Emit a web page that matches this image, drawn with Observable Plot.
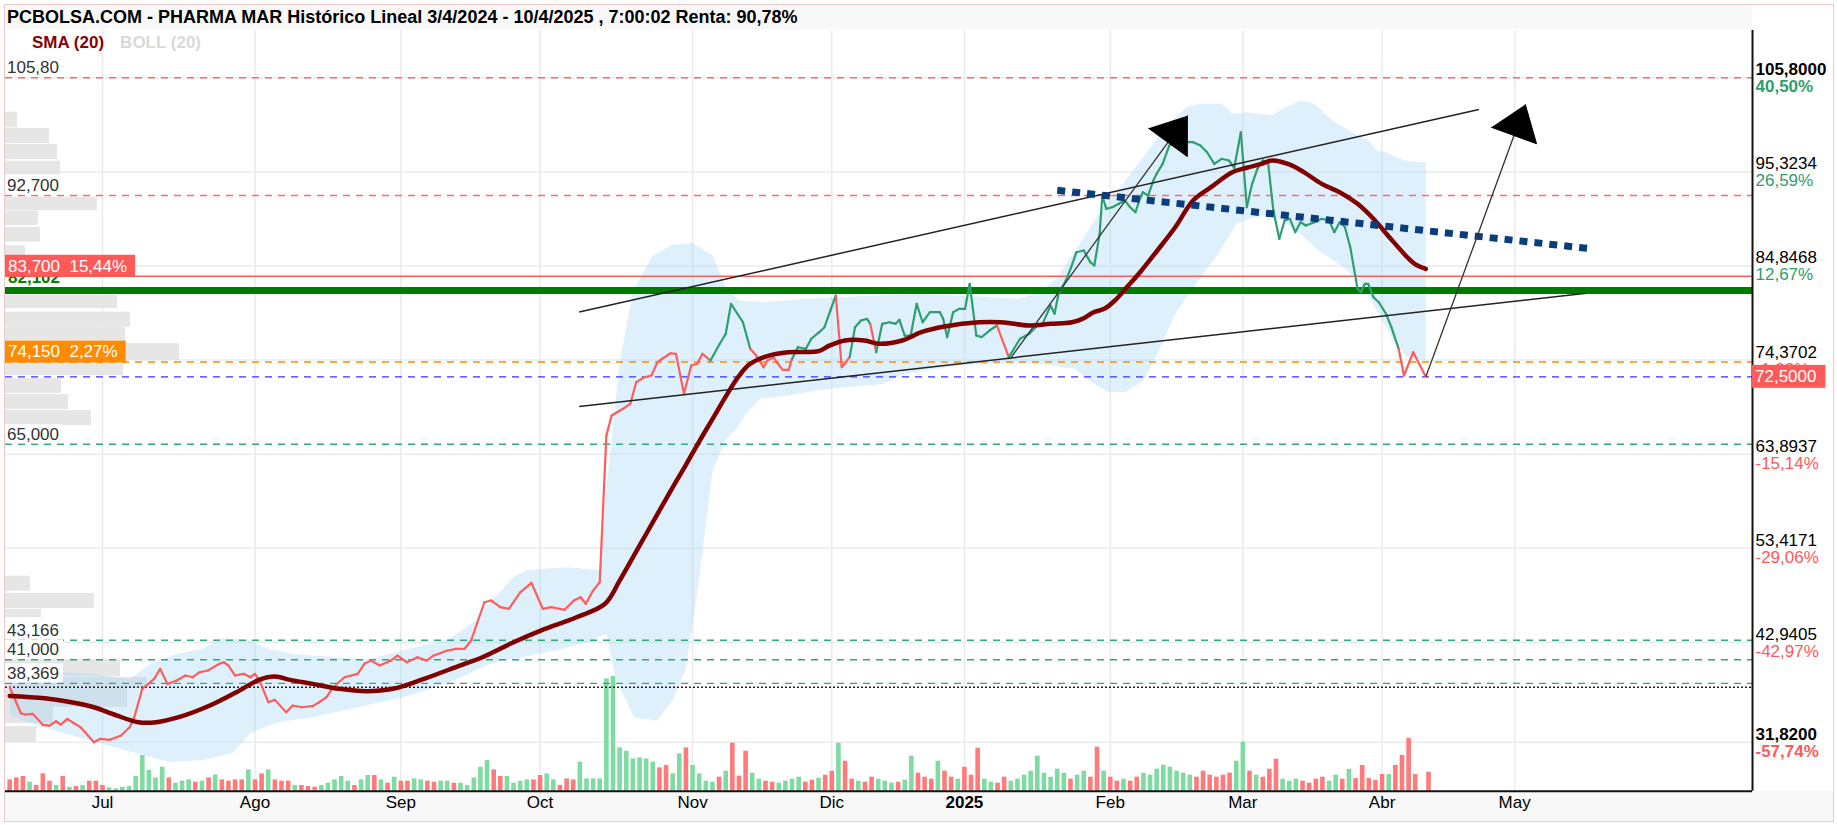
<!DOCTYPE html>
<html><head><meta charset="utf-8">
<script src="https://cdn.jsdelivr.net/npm/d3@7"></script>
<script src="https://cdn.jsdelivr.net/npm/@observablehq/plot@0.6"></script>
<style>
body{margin:0;background:#fff;font-family:"Liberation Sans",Arial,sans-serif;}
#wrap{position:relative;width:1837px;height:825px;overflow:hidden;background:#fff;}
#border{position:absolute;left:4px;top:4px;width:1830px;height:818px;border:1px solid #efc9c9;box-sizing:border-box;}
#titlebar{position:absolute;left:5px;top:5px;width:1747px;height:24px;background:#f8f8f8;}
#title{position:absolute;left:7px;top:5px;font:bold 18px "Liberation Sans",Arial,sans-serif;color:#000;white-space:nowrap;line-height:24px;}
#xband{position:absolute;left:5px;top:791px;width:1828px;height:30px;background:#f8f8f8;}
#legend{position:absolute;top:33px;left:32px;font:bold 17px "Liberation Sans",Arial,sans-serif;white-space:nowrap;line-height:20px;}
.layer{position:absolute;left:0;top:30px;}
</style></head>
<body><div id="wrap">
<div id="xband"></div>
<div id="titlebar"></div>
<div id="title">PCBOLSA.COM - PHARMA MAR Histórico Lineal 3/4/2024 - 10/4/2025 , 7:00:02 Renta: 90,78%</div>
<div id="border"></div>
<div id="legend"><span style="color:#8b0000">SMA (20)</span><span style="color:#d9d9d9;margin-left:16px">BOLL (20)</span></div>
</div>
<script>
// ---------------- DATA ----------------
const monthStarts = [["Jul",14],["Ago",37],["Sep",59],["Oct",80],["Nov",103],["Dic",124],["2025",144],["Feb",166],["Mar",186],["Abr",207],["May",227]];
const rightTicks = [105.8, 95.3234, 84.8468, 74.3702, 63.8937, 53.4171, 42.9405, 31.82];
const rightPct = ["40,50%","26,59%","12,67%","-1,23%","-15,14%","-29,06%","-42,97%","-57,74%"];
const baseRef = 75.30;
const firstPrice = 37.94;
const lastPrice = 72.5;

// closing price (trading-day index, value)
const closePts = [[0,37.94],[1.7,35.04],[2.3,34.9],[3.5,34.97],[5,33.75],[6,33.67],[7,34.15],[7.7,33.78],[8.7,34.42],[9.7,33.93],[10.7,33.48],[12.7,31.8],[13.7,32.19],[15.1,32.08],[16.8,32.56],[18.1,33.48],[18.8,34.6],[20,37.76],[21.8,38.87],[22.7,39.99],[23.8,38.3],[25.2,38.68],[26.5,39.24],[27.6,39.05],[28.6,39.6],[29.9,39.8],[31.6,40.54],[32.3,40.72],[33,40.35],[34,39.24],[35.3,39.43],[36.3,39.05],[37,39.43],[37.7,38.68],[39,36.27],[40,36.53],[41.7,35.15],[42.7,35.9],[44,35.71],[45.7,35.83],[46.7,36.27],[47.8,36.83],[48.8,37.94],[50.5,39.05],[52.5,39.43],[53.5,40.54],[54.5,40.9],[55.8,40.35],[57.5,40.9],[58.5,41.45],[59.9,40.72],[61.5,41.28],[62.9,40.9],[63.9,41.45],[65.9,42.0],[67.3,42.2],[68.6,42.2],[69.6,43.14],[71.6,47.4],[72.6,47.6],[74,46.85],[75.3,46.67],[77,48.5],[78.7,49.56],[80.4,46.67],[81.7,46.85],[83.7,46.56],[85.1,47.6],[86.1,47.96],[86.9,47.23],[88,48.7],[89,49.63],[90,65.97],[90.8,68.2],[92.5,68.94],[93.6,69.5],[94.5,71.9],[95.7,72.46],[96.8,72.65],[97.7,74.13],[98.2,74.4],[99.7,75.13],[100.5,75.06],[101.7,70.61],[102.8,73.76],[103.7,73.95],[104.5,75.06],[105.7,74.32],[107.1,76.18],[108,77.29],[108.8,80.63],[110.6,78.58],[111.7,75.62],[112.6,74.87],[113.7,73.57],[114.3,74.32],[115.2,74.69],[115.7,74.13],[116.6,73.28],[117.5,73.28],[118,74.5],[118.9,75.8],[120.1,75.62],[120.9,76.74],[122.1,77.47],[122.9,78.03],[123.8,79.9],[124.6,81.56],[125.5,73.57],[126.1,74.13],[126.7,74.69],[127.5,78.03],[128.4,78.77],[129.3,78.96],[129.8,78.4],[130.7,75.25],[131.6,78.4],[132.7,78.58],[133.6,78.4],[134.2,78.85],[135,77.1],[135.9,77.1],[136.8,80.63],[137.7,78.58],[138.8,79.7],[140.3,79.7],[140.8,78.96],[141.4,76.92],[142.3,79.7],[143.2,80.07],[144.1,80.07],[144.8,82.86],[145.8,77.1],[146.6,76.92],[147.8,77.66],[148.9,78.22],[150.7,74.69],[152.4,76.74],[153.8,77.29],[155,78.22],[155.8,78.4],[157,80.44],[157.6,79.52],[158.2,81.75],[159.3,83.23],[160.1,84.7],[160.9,86.38],[162,86.57],[163,85.27],[163.6,84.9],[164.4,88.43],[164.8,92.69],[165.4,91.21],[166.3,91.39],[167.3,91.77],[168.2,92.14],[169,91.39],[169.8,90.83],[170.3,91.95],[170.9,93.06],[171.7,92.69],[172.5,94.36],[173,95.11],[173.9,96.22],[174.9,98.26],[176,98.63],[177.4,98.63],[178.5,98.63],[179.6,98.26],[180.6,97.51],[181.7,96.22],[182.8,96.78],[183.9,96.59],[184.7,95.78],[185.7,99.74],[186.6,91.39],[187.4,93.99],[188.2,95.66],[189,96.59],[189.8,96.4],[190.6,91.02],[191.5,87.87],[192.3,89.91],[193.1,90.1],[193.9,88.61],[194.7,89.72],[195.5,89.35],[196.8,89.72],[197.9,90.1],[199,89.91],[199.8,88.61],[200.6,89.72],[201.4,89.16],[202.2,86.94],[203.3,82.3],[203.8,81.93],[204.4,82.86],[204.9,82.86],[205.7,81.37],[206.5,80.81],[207.6,79.52],[208.4,78.03],[209.5,75.62],[210.3,72.65],[211.7,75.25],[213.6,72.5]];

// SMA(20)
const smaPts = [[0,36.96],[5.3,36.7],[9.3,36.27],[12.7,35.71],[16.1,34.8],[19.4,34.04],[22.1,34.04],[25.5,34.6],[30.2,35.9],[34.2,37.38],[37.6,38.76],[40,39.13],[42.3,38.76],[45.7,38.31],[49.7,37.76],[53.8,37.49],[57.8,37.76],[62.5,38.87],[67.9,40.35],[71.3,41.28],[76,42.95],[80.1,44.25],[85.5,45.73],[89.8,47.23],[92,49.8],[94,52.4],[96,55],[98,57.6],[100,60.2],[102,62.7],[104,65.3],[106,67.8],[108,70.3],[110,72.6],[111.6,73.9],[114.5,74.87],[117.4,75.25],[122,75.36],[123.7,76.0],[126,76.55],[128.9,76.55],[131.2,76.18],[134.6,76.55],[137.5,77.47],[141,78.1],[146.2,78.58],[149.6,78.58],[153.7,78.22],[157,78.4],[160.2,78.58],[161.8,78.96],[163.5,79.7],[165.1,80.07],[166.7,81.0],[168.3,82.3],[170.5,84.15],[173.1,86.57],[175.8,89.16],[178.5,92.14],[181.2,93.62],[184.4,95.29],[186.6,95.78],[188.8,96.22],[190.4,96.59],[193,96.15],[195.2,95.29],[197.9,93.99],[200.6,93.06],[203.3,91.77],[205.7,90.1],[208.1,88.05],[210.8,85.82],[211.9,85.09],[213.6,84.53]];

// Bollinger (20) upper / lower
const bollUpper = [[0,40.2],[5,39.8],[9,39.6],[13,39.4],[18,38.8],[21,40.4],[25,41.6],[29,42.2],[32,43.4],[36,43.2],[39,42.2],[43,41.6],[49,41.3],[54,41.0],[59,42.0],[66,43.2],[70,45.2],[73,47.8],[76,50.2],[78,51],[84,51.3],[89,51],[90,60],[92,74],[94,82],[97,86],[100,87.2],[103,87.4],[106,86],[108,82.5],[110,81],[114,80.8],[120,81.2],[126,81.4],[131,81.55],[137,81.7],[145,81.5],[152,81.2],[155,81.8],[158,83.5],[162,88],[165,91.5],[168.3,94.36],[172.1,98.07],[174.8,100.68],[177.5,102.53],[179.6,102.9],[182.8,102.9],[184.4,101.8],[186.6,101.97],[190.3,101.6],[192.5,102.5],[194.7,103.27],[196.8,102.9],[199.5,101.04],[202.8,99.56],[205,98.8],[206.3,97.7],[207.6,97.5],[210.3,96.6],[213.6,96.4]];
const bollLower = [[0,34.8],[5,33.5],[12,32.0],[19,30.6],[24,29.6],[29,29.8],[33.6,30.6],[36.3,32.8],[40.4,34.05],[45.7,34.6],[52.5,35.7],[59.2,36.8],[65.9,38.35],[72.7,40.6],[82.8,42.1],[88,43.15],[89,43.6],[90,43.9],[91.5,38.7],[94.2,34.6],[97.6,34.2],[100,36.5],[102,40],[104,50],[106,62],[108,65.5],[109.8,66.9],[111,68.4],[113.2,70.05],[117.3,70.4],[121.9,71.0],[126,71.35],[131.7,71.7],[134.7,72.8],[143.3,73.8],[149,74.0],[155,74.0],[160.6,73.4],[163,72],[165.6,70.8],[168.3,70.8],[171,72.1],[173.1,75.07],[175.8,79.5],[179.6,83.6],[182.3,86.2],[185,89.54],[187.7,90.28],[190.4,90.66],[194.7,88.43],[197.4,86.57],[201.2,84.7],[203.8,82.86],[206.5,79.52],[208.7,76.55],[210.8,74.69],[213.6,74.32]];

// daily volume (arbitrary units) and direction (u = up day, d = down day), from trading day 0
const volume = [11.3,13.3,14.7,9,5.7,17.3,10,5.7,14.7,4,4.7,5.7,10,10,5.7,3.3,2.3,4,4.7,14.7,35.7,20.7,13.3,24,13.3,8,10,11.3,9,10,13.3,16.3,11.3,10,11.3,11.3,21.3,11.3,17.3,21.3,11.3,10,10,5.7,5.7,4.7,4,5.7,8,11.3,14.7,10,5.7,11.3,15.7,15.7,11.3,8,14,10,10,12.3,11.3,10,9,10,10,8,8,5.7,13.3,24,30.7,21.3,14.7,14.7,8,10,11.3,11.3,15.7,17.3,11.3,5.7,12.3,11.3,29,12.3,12.3,12.3,112.3,114.7,43.3,40,32.3,33.3,32.3,29,23.3,25.7,17.3,37.3,43.3,25.7,17.3,
 10,9,14,20,48,15,40,18,12,10,9,8,10,12,14,9,11,13,16,20,48,30,12,10,9,14,12,10,8,9,11,35,18,14,12,30,20,14,12,24,16,43,12,9,8,14,10,12,16,20,35,18,14,22,18,12,16,20,14,44,20,14,10,12,10,14,18,16,22,26,24,20,18,16,14,20,16,14,16,18,30,49,20,16,14,22,32,12,10,12,10,8,12,14,10,16,12,22,
 12.7,25.7,12.7,10.7,16.7,16.7,25.7,35.7,52.7,16.7,null,19];
const volDir = "dddudddudududdduuuuuuuuuduuudududdddudduddduddduuuuuduudududduudduuduuuuudduuuudduuddduuuuuuuuuuuudduu" +
 "duuuududdduudduuuuddudduddudduuuduudddudduddduudduuuuuuuuuduudduddudduuuuuuuudddddduududdduuudddduududdd" +
 "ddudddddduud";

// volume profile (price from, price to, volume)
const profile = [[100.23,101.97,12],[98.48,100.15,44],[96.7,98.37,52],[95.0,96.51,55],[91.0,92.5,92],[89.35,90.94,33],[87.5,89.16,35],[86.0,87.1,20],[80.1,81.56,112],[78.03,79.7,125],[76.55,77.99,120],[74.32,76.21,174],[72.65,74.13,118],[70.64,72.31,56],[68.86,70.53,63],[67.08,68.75,86],[48.63,50.3,25],[46.7,48.37,89],[45.7,46.6,36],[39.1,41.0,115],[37.9,39.02,142],[35.7,37.8,122],[33.9,35.7,48],[31.79,33.57,31]];

// horizontal levels
const redDashLevels = [105.8, 92.7];
const redSolidLevels = [83.7];
const greenThickLevels = [82.102];
const orangeLevels = [74.15];
const blueLevels = [72.5];
const greenDashLevels = [65, 43.166, 41, 38.369];
const plainLabels = [[105.8,"105,80"],[92.7,"92,700"],[65,"65,000"],[43.166,"43,166"],[41,"41,000"],[38.369,"38,369"]];
const boxLabels = [[83.7,"83,700\u00a0\u00a015,44%","#ff5a5a"],[74.15,"74,150\u00a0\u00a02,27%","#ff8c00"]];

// drawn annotations (trading-day, price)
const channelLines = [[85.9,79.71,221.6,102.27],[85.9,69.2,237.8,81.81]];
const dottedTrend = [[158,93.27,238.6,86.76]];
const arrows = [[151,74.62,174.7,98.6],[213.6,72.5,226.9,99.37]];

// ---------------- CHART ----------------
const X = {domain: [-0.63, 262.87], range: [5, 1752]};
const Y = {domain: [26.36, 105.8], range: [760.7, 47.3]};
const W = 1837, H = 792;
const base = {width: W, height: H, marginLeft: 5, marginRight: 85, marginTop: 0, marginBottom: 31.3,
  style: {background: "transparent", fontFamily: "'Liberation Sans', Arial, sans-serif", overflow: "visible"},
  color: {type: "identity"}};
const wrap = document.getElementById("wrap");
function addLayer(p) { p.classList.add("layer"); p.style.position = "absolute"; p.style.left = "0px"; p.style.top = "30px"; wrap.insertBefore(p, document.getElementById("legend")); return p; }

const months = monthStarts.map(([label, day]) => ({label, day}));

// Layer A: grid
addLayer(Plot.plot({...base, x: {...X, axis: null}, y: {...Y, axis: null}, marks: [
  Plot.ruleY(rightTicks, {stroke: "#ebebeb", strokeWidth: 1.5}),
  Plot.ruleX(months, {x: "day", stroke: "#ebebeb", strokeWidth: 1.5})
]}));

// Layer B: volume profile
addLayer(Plot.plot({...base, x: {domain: [0, 1747], range: [5, 1752], axis: null}, y: {...Y, axis: null}, marks: [
  Plot.rect(profile, {x1: () => 0, x2: d => d[2], y1: d => d[0], y2: d => d[1], fill: "#e3e3e3", fillOpacity: 0.9})
]}));

// Layer C: volume bars
const volData = volume.map((v, i) => ({day: i, vol: v, dir: volDir[i]})).filter(d => d.vol != null);
addLayer(Plot.plot({...base, x: {...X, axis: null}, y: {domain: [0, 120], range: [760.7, 640.7], axis: null}, marks: [
  Plot.ruleX(volData, {x: "day", y1: () => 0, y2: "vol", stroke: d => d.dir === "u" ? "#7fdba2" : "#ff7b7b", strokeWidth: 4.6})
]}));

// Layer D: main
const sx = Plot.scale({x: X}), sy = Plot.scale({y: Y});
const bandPoly = bollUpper.concat(bollLower.slice().reverse());
const segs = closePts.slice(1).map((p, i) => ({x1: closePts[i][0], y1: closePts[i][1], x2: p[0], y2: p[1], c: p[1] >= baseRef ? "#2e9e6e" : "#ff5c5c"}));
const heads = [];
arrows.forEach(([d1, p1, d2, p2], k) => {
  const ax = sx.apply(d1), ay = sy.apply(p1), bx = sx.apply(d2), by = sy.apply(p2);
  const L = Math.hypot(bx - ax, by - ay), ux = (bx - ax) / L, uy = (by - ay) / L;
  const h = 33, w = 24;
  const pts = [[bx + ux * h, by + uy * h], [bx - uy * w, by + ux * w], [bx + uy * w, by - ux * w]];
  pts.forEach(([px, py]) => heads.push({id: k, x: sx.invert(px), y: sy.invert(py)}));
});
const tickData = rightTicks.map((v, i) => ({v, t: d3.format(".4f")(v).replace(".", ","), pct: rightPct[i], i}));
const dash = "7,6";

const main = addLayer(Plot.plot({...base, x: {...X, axis: null}, y: {...Y, axis: null}, marks: [
  Plot.line(bandPoly, {x: d => d[0], y: d => d[1], fill: "#a9d8f7", fillOpacity: 0.38, stroke: "none"}),
  Plot.ruleY(redDashLevels, {stroke: "#ff6b6b", strokeWidth: 1.4, strokeDasharray: dash}),
  Plot.ruleY(greenDashLevels, {stroke: "#33a67a", strokeWidth: 1.4, strokeDasharray: dash}),
  Plot.ruleY([firstPrice], {stroke: "#222", strokeWidth: 1.4, strokeDasharray: "2,2"}),
  Plot.ruleY(orangeLevels, {stroke: "#ff8c00", strokeWidth: 1.4, strokeDasharray: dash}),
  Plot.ruleY(blueLevels, {stroke: "#3333ff", strokeWidth: 1.4, strokeDasharray: dash}),
  Plot.ruleY(redSolidLevels, {stroke: "#ff5c5c", strokeWidth: 1.5}),
  Plot.ruleY(greenThickLevels, {stroke: "#007a00", strokeWidth: 7}),
  Plot.link(segs, {x1: "x1", y1: "y1", x2: "x2", y2: "y2", stroke: "c", strokeWidth: 2.2, strokeLinecap: "round"}),
  Plot.line(smaPts, {x: d => d[0], y: d => d[1], stroke: "#800000", strokeWidth: 4.5, curve: "catmull-rom"}),
  Plot.link(channelLines, {x1: d => d[0], y1: d => d[1], x2: d => d[2], y2: d => d[3], stroke: "#222", strokeWidth: 1.5}),
  Plot.link(dottedTrend, {x1: d => d[0], y1: d => d[1], x2: d => d[2], y2: d => d[3], stroke: "#0b3d7c", strokeWidth: 7, strokeDasharray: "8,7"}),
  Plot.link(arrows, {x1: d => d[0], y1: d => d[1], x2: d => d[2], y2: d => d[3], stroke: "#333", strokeWidth: 1.3}),
  Plot.line(heads, {x: "x", y: "y", z: "id", fill: "#000", stroke: "#000", strokeWidth: 1}),
  Plot.ruleX([X.domain[1]], {stroke: "#111", strokeWidth: 2}),
  Plot.ruleY([Y.domain[0]], {stroke: "#111", strokeWidth: 2}),
  Plot.text(tickData.filter(d => d.i > 0 && d.i < 7), {y: "v", text: "t", frameAnchor: "right", textAnchor: "start", dx: 3, dy: -8, fontSize: 17, fill: "#000"}),
  Plot.text(tickData.filter(d => d.i === 0 || d.i === 7), {y: "v", text: "t", frameAnchor: "right", textAnchor: "start", dx: 3, dy: -8, fontSize: 17, fontWeight: "bold", fill: "#000"}),
  Plot.text(tickData.filter(d => d.i > 0 && d.i < 7), {y: "v", text: "pct", frameAnchor: "right", textAnchor: "start", dx: 3, dy: 9, fontSize: 17, fill: d => d.pct.startsWith("-") ? "#ff5a5a" : "#2e9e6e"}),
  Plot.text(tickData.filter(d => d.i === 0 || d.i === 7), {y: "v", text: "pct", frameAnchor: "right", textAnchor: "start", dx: 3, dy: 9, fontSize: 17, fontWeight: "bold", fill: d => d.pct.startsWith("-") ? "#ff5a5a" : "#2e9e6e"}),
  Plot.text(months.filter(d => d.label !== "2025"), {x: "day", text: "label", frameAnchor: "bottom", dy: 17, fontSize: 17, fill: "#000"}),
  Plot.text(months.filter(d => d.label === "2025"), {x: "day", text: "label", frameAnchor: "bottom", dy: 17, fontSize: 17, fontWeight: "bold", fill: "#000"})
]}));

// label boxes positioned through the chart's own scales
const ys = main.scale("y");
const g = d3.select(main).append("g").attr("font-size", 17).attr("text-anchor", "start").attr("font-family", "'Liberation Sans', Arial, sans-serif");
function label(x0, yc, text, fill, bg, h, padL, padR, weight) {
  const t = g.append("text").attr("x", x0 + padL).attr("y", yc).attr("dy", "0.35em").attr("text-anchor", "start").attr("fill", fill).attr("font-weight", weight || "normal").text(text);
  if (bg) {
    const w = t.node().getComputedTextLength();
    g.insert("rect", () => t.node()).attr("x", x0).attr("y", yc - h / 2).attr("width", w + padL + padR).attr("height", h).attr("fill", bg);
  }
}
plainLabels.forEach(([v, t]) => label(5, ys.apply(v) - 10, t, "#333", "#fff", 19, 2, 4));
label(5, ys.apply(greenThickLevels[0]) - 13, "82,102", "#008000", null, 19, 3, 0, "bold");
boxLabels.forEach(([v, t, c]) => label(5, ys.apply(v) - 10, t, "#fff", c, 22, 3, 8));
label(1752, ys.apply(lastPrice), "72,5000", "#fff", "#ff5a5a", 23, 3, 9);
</script>
</body></html>
